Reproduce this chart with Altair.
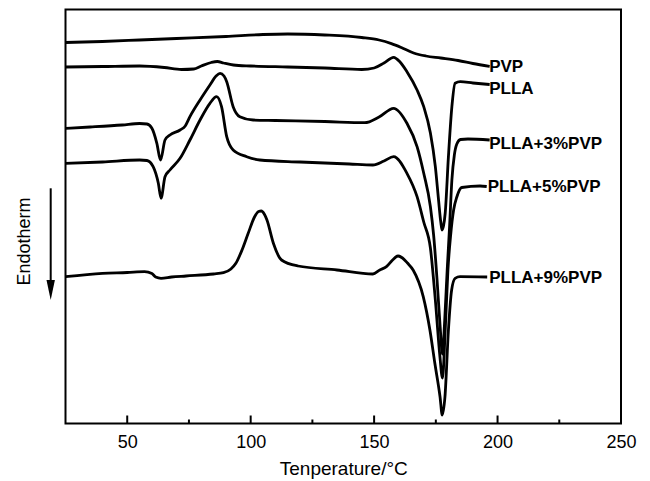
import altair as alt
import pandas as pd

# Temperature (°C) and heat flow (a.u., curves offset vertically; down = endotherm)
pvp_t = [25, 40, 55, 70, 90, 105, 115, 130, 145, 152, 157, 161, 166, 171, 177, 184, 190, 196.8]
pvp_v = [38.10, 38.20, 38.35, 38.50, 38.70, 38.90, 38.95, 38.85, 38.60, 38.35, 37.99, 37.60,
         37.05, 36.75, 36.55, 36.30, 36.00, 35.70]

plla_t = [25, 40, 55, 65, 72, 77, 80, 84, 86.5, 89, 93, 100, 115, 130, 145, 150, 154, 157.9,
          160.5, 163.3, 167.4, 170.1, 172.8, 174.8, 176.1, 177.0, 177.5, 178.1, 178.8, 180.1,
          181.5, 182.8, 184.9, 190, 196.8]
plla_v = [35.65, 35.70, 35.75, 35.60, 35.40, 35.45, 35.75, 36.10, 36.20, 36.05, 35.85, 35.75,
          35.65, 35.55, 35.40, 35.55, 36.05, 36.62, 36.15, 35.18, 33.35, 31.68, 29.05, 25.68,
          22.35, 20.15, 19.35, 19.75, 21.05, 26.68, 31.68, 34.02, 34.18, 34.05, 33.90]

p3_t = [25, 35, 48, 55, 58, 60, 62, 63.5, 65.3, 67.3, 71.4, 73.5, 75.4, 79.5, 83.5, 86, 87.6,
        89.2, 90.3, 92.9, 95.6, 101, 110, 130, 146.2, 152, 157.9, 163.3, 167.4, 170.1, 172.8,
        174.1, 175.5, 176.7, 177.7, 178.6, 179.6, 180.6, 181.5, 182.5, 183.5, 185, 188, 196.8]
p3_v = [29.52, 29.65, 29.85, 30.00, 29.95, 29.52, 28.02, 26.35, 28.35, 28.85, 29.35, 29.75,
        30.68, 32.35, 33.85, 34.75, 35.02, 34.75, 34.18, 31.68, 30.68, 30.35, 30.30, 30.20,
        30.08, 30.65, 31.52, 30.02, 27.68, 25.02, 21.68, 18.85, 14.35, 9.85, 6.95, 10.35,
        15.35, 19.85, 24.35, 26.85, 27.95, 28.40, 28.45, 28.35]

p5_t = [25, 40, 55, 58, 60.5, 62.6, 63.7, 65.3, 67.3, 71.4, 75.4, 79.5, 83.5, 86.2, 88.2, 90.3,
        92.9, 98.4, 103.7, 120, 140, 149.5, 154, 157.9, 163.3, 167.4, 170.1, 172.8, 174.8,
        176.6, 177.7, 178.8, 179.9, 181, 182.2, 183.5, 185.5, 192.9, 195.6]
p5_v = [26.02, 26.15, 26.35, 26.30, 25.68, 24.02, 22.52, 24.68, 25.35, 26.52, 28.35, 30.35,
        32.02, 32.68, 31.68, 28.68, 27.35, 26.68, 26.35, 26.15, 25.95, 25.85, 26.25, 26.68,
        25.02, 22.68, 20.15, 17.55, 12.35, 6.85, 4.55, 9.35, 15.35, 18.85, 21.35, 22.65,
        23.60, 23.75, 23.70]

p9_t = [25, 40, 50, 57, 60, 61.5, 63.7, 68, 73.8, 85, 89, 92, 94, 96.5, 99, 101.6, 103.2, 104.3,
        105.5, 106.6, 109.2, 112.5, 119.2, 135, 149.5, 152.3, 155, 157.5, 159.7, 161.5, 163.5,
        165.8, 169.9, 172.6, 174.6, 176.7, 177.6, 178.7, 180.1, 181.4, 182.8, 184.8, 195.8]
p9_v = [14.68, 15.02, 15.10, 15.18, 15.00, 14.65, 14.52, 14.65, 14.75, 14.95, 15.08, 15.45,
        16.02, 17.35, 19.02, 20.68, 21.20, 21.25, 20.95, 20.35, 18.02, 16.35, 15.75, 15.35,
        14.95, 15.35, 15.68, 16.35, 16.75, 16.55, 16.05, 15.35, 12.68, 9.35, 6.02, 2.68, 0.85,
        2.68, 9.35, 13.35, 14.52, 14.68, 14.65]

series_names = ["PVP", "PLLA", "PLLA+3%PVP", "PLLA+5%PVP", "PLLA+9%PVP"]
series_t = [pvp_t, plla_t, p3_t, p5_t, p9_t]
series_v = [pvp_v, plla_v, p3_v, p5_v, p9_v]

label_t = [196.6, 196.6, 196.6, 196.0, 196.6]
label_v = [35.68, 33.45, 27.95, 23.65, 14.58]

major_ticks = [50, 100, 150, 200, 250]
minor_ticks = [75, 125, 175, 225]

rows = []
for name, ts, vs in zip(series_names, series_t, series_v):
    for i, (t, v) in enumerate(zip(ts, vs)):
        rows.append({"series": name, "T": t, "hf": v, "i": i})
df = pd.DataFrame(rows)
lab_df = pd.DataFrame({"label": series_names, "T": label_t, "hf": label_v})
maj_df = pd.DataFrame({"T": major_ticks})
min_df = pd.DataFrame({"T": minor_ticks})

W, H = 555.5, 414

x = alt.X("T:Q",
          scale=alt.Scale(domain=[25, 250], nice=False, zero=False),
          axis=alt.Axis(values=major_ticks, title="Tenperature/°C", ticks=False, tickSize=0,
                        domain=False, grid=False, labelFontSize=18, labelFont="Liberation Sans",
                        labelColor="black", labelPadding=10, labelFlush=False,
                        titleFontSize=19, titleFont="Liberation Sans", titleFontWeight="normal",
                        titleColor="black", titlePadding=8))
y = alt.Y("hf:Q", scale=alt.Scale(domain=[0, 41.4], nice=False, zero=False), axis=None)

lines = alt.Chart(df).mark_line(color="black", strokeWidth=2.8, interpolate="monotone").encode(
    x=x, y=y, detail="series:N", order="i:Q")

labels = alt.Chart(lab_df).mark_text(align="left", baseline="middle", fontSize=17,
                                     fontWeight="bold", font="Liberation Sans",
                                     color="black").encode(x=x, y=y, text="label:N")

maj = alt.Chart(maj_df).mark_rule(color="black", strokeWidth=2).encode(
    x=x, y=alt.value(H), y2=alt.value(H - 8))
mnr = alt.Chart(min_df).mark_rule(color="black", strokeWidth=2).encode(
    x=x, y=alt.value(H), y2=alt.value(H - 4))

endo = alt.Chart(pd.DataFrame({"t": ["Endotherm"]})).mark_text(
    angle=270, fontSize=18, font="Liberation Sans", align="center", baseline="middle",
    color="black").encode(x=alt.value(-40.5), y=alt.value(232), text="t:N")
shaft = alt.Chart(pd.DataFrame({"a": [0]})).mark_rule(color="black", strokeWidth=2).encode(
    x=alt.value(-14.8), y=alt.value(178.8), y2=alt.value(276))
head = alt.Chart(pd.DataFrame({"a": [0]})).mark_point(
    shape="M-0.42,-1L0.42,-1L0,1Z", filled=True, size=400, color="black", opacity=1,
    strokeWidth=0).encode(x=alt.value(-14.8), y=alt.value(280.5))

chart = alt.layer(lines, labels, maj, mnr, endo, shaft, head).properties(
    width=W, height=H,
    autosize=alt.AutoSizeParams(type="none"),
    padding={"left": 57.5, "top": 1.5, "right": 18, "bottom": 56},
    background="white",
).configure_view(stroke="black", strokeWidth=2)

chart.save("out.html", embed_options={"renderer": "svg", "actions": False})
